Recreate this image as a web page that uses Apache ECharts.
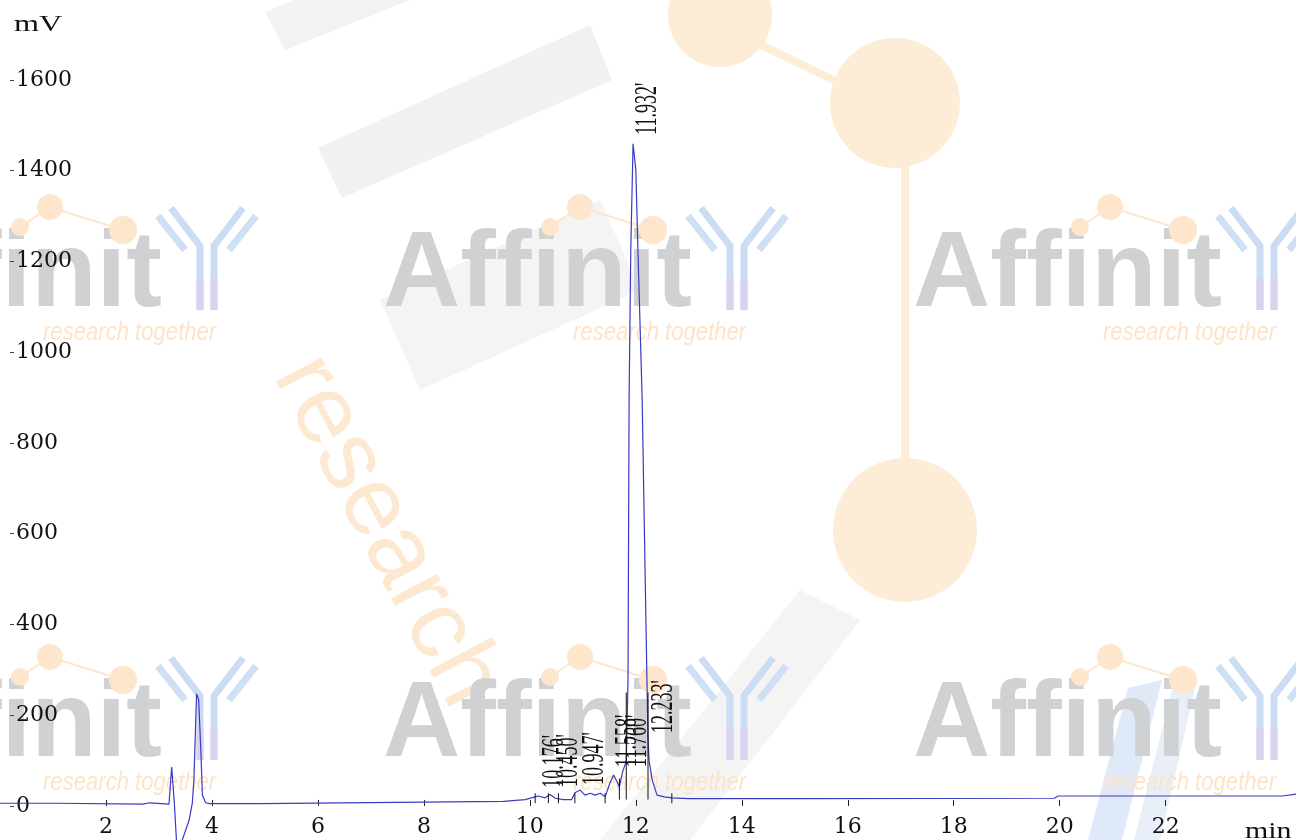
<!DOCTYPE html>
<html>
<head>
<meta charset="utf-8">
<title>chromatogram</title>
<script src="https://cdn.jsdelivr.net/npm/echarts@6/dist/echarts.min.js"></script>
<style>
html,body{margin:0;padding:0;background:#fff;}
#chart{width:1296px;height:840px;}
</style>
</head>
<body>
<div id="chart"></div>
<script>
// retention time (min) and detector signal (mV)
var rtTimes = [0, 1.05, 1.07, 2.70, 2.73, 2.82, 2.85, 3.19, 3.24, 3.29, 3.33, 3.38, 3.44, 3.57, 3.63, 3.66, 3.71, 3.75, 3.79, 3.82, 3.88, 3.95,
	4.93, 4.95, 9.50, 9.91, 10.10, 10.16, 10.29, 10.38, 10.48, 10.63, 10.79, 10.85, 10.95, 11.04, 11.14, 11.23, 11.33, 11.42,
	11.51, 11.58, 11.64, 11.69, 11.75, 11.80, 11.82, 11.853, 11.873, 11.905, 11.948, 12.00, 12.04, 12.12, 12.165, 12.21,
	12.23, 12.25, 12.31, 12.40, 12.54, 12.68, 13.00, 15.00, 19.90, 19.97, 24.20, 24.22, 24.46];
var signal = [6, 6, 4, 4, 7, 7, 4, 4, 86, 7, -75, -100, -75, -31, 7, 57, 247, 234, 123, 24, 7, 5,
	5, 7, 10, 14, 20, 22, 18, 25, 17, 14, 14, 29, 35, 24, 28, 24, 28, 20,
	50, 68, 55, 42, 75, 92, 100, 278, 895, 1225, 1459, 1402, 1225, 895, 586, 278,
	150, 101, 57, 24, 20, 18, 16, 16, 17, 22, 22, 26, 26];

// peak labels: retention time, label foot (mV)
var peakTimes = [10.176, 10.450, 10.947, 11.558, 11.760, 11.932, 12.233];
var peakNames = ["10.176'", "10.450'", "10.947'", "11.558'", "11.760'", "11.932'", "12.233'"];
var labelFoot = [40, 42, 46, 86, 86, 1479, 161];

// integration marks: short ticks on the baseline and drop lines
var tickTimes = [10.10, 10.35, 10.54, 10.85, 11.42, 12.68];
var tickLow = [6, 6, 6, 6, 6, 6];
var tickHigh = [28, 28, 28, 28, 28, 28];
var dropTimes = [11.69, 11.82, 12.23];
var dropLow = [14, 14, 14];
var dropHigh = [60, 250, 250];

var xTicks = [2, 4, 6, 8, 10, 12, 14, 16, 18, 20, 22];
var yTicks = [0, 200, 400, 600, 800, 1000, 1200, 1400, 1600];

var chart = echarts.init(document.getElementById('chart'));

var trace = [];
for (var i = 0; i < rtTimes.length; i++) {
	trace.push([rtTimes[i], signal[i]]);
}
var peakData = [];
for (var i = 0; i < peakTimes.length; i++) {
	peakData.push([peakTimes[i], labelFoot[i]]);
}
var markData = [];
for (var i = 0; i < tickTimes.length; i++) {
	markData.push([tickTimes[i], tickLow[i], tickHigh[i]]);
}
for (var i = 0; i < dropTimes.length; i++) {
	markData.push([dropTimes[i], dropLow[i], dropHigh[i]]);
}

// watermark logo, ox = left of the word, oy = its baseline
var orange = '#fde6cc';
function logo(ox, oy) {
	return {
		type: 'group', x: ox, y: oy, silent: true, z: -10,
		children: [
			{type: 'polyline', shape: {points: [[167, -81], [197, -101], [270, -78]]}, style: {stroke: orange, lineWidth: 2, fill: null}},
			{type: 'text', style: {text: 'Affinit', x: 0, y: 0, font: 'bold 107px "Liberation Sans"', fill: '#cfd1d3', verticalAlign: 'bottom'}, y: 22},
			{type: 'circle', shape: {cx: 167, cy: -81, r: 9}, style: {fill: orange}},
			{type: 'circle', shape: {cx: 197, cy: -101, r: 13}, style: {fill: orange}},
			{type: 'circle', shape: {cx: 270, cy: -78, r: 14}, style: {fill: orange}},
			{type: 'polyline', shape: {points: [[347, 2], [347, -62], [318, -100]]}, style: {stroke: '#cbdcf3', lineWidth: 7, fill: null}},
			{type: 'polyline', shape: {points: [[361, 2], [361, -62], [390, -100]]}, style: {stroke: '#cbdcf3', lineWidth: 7, fill: null}},
			{type: 'line', shape: {x1: 305, y1: -92, x2: 332, y2: -58}, style: {stroke: '#cfdff4', lineWidth: 7}},
			{type: 'line', shape: {x1: 403, y1: -92, x2: 376, y2: -58}, style: {stroke: '#cfdff4', lineWidth: 7}},
			{type: 'line', shape: {x1: 347, y1: -30, x2: 347, y2: 2}, style: {stroke: '#d8d3ef', lineWidth: 7}},
			{type: 'line', shape: {x1: 361, y1: -30, x2: 361, y2: 2}, style: {stroke: '#d8d3ef', lineWidth: 7}},
			{type: 'text', x: 190, y: 25, scaleX: 0.85, style: {text: 'research together', x: 0, y: 0, font: 'italic 26px "Liberation Sans"', fill: '#fde4c8', verticalAlign: 'middle'}}
		]
	};
}

var watermark = [
	{type: 'polygon', silent: true, z: -20, shape: {points: [[265, 12], [540, -98], [560, -60], [285, 50]]}, style: {fill: '#f2f2f2'}},
	{type: 'polygon', silent: true, z: -20, shape: {points: [[318, 148], [590, 25], [612, 80], [342, 198]]}, style: {fill: '#f1f1f1'}},
	{type: 'polygon', silent: true, z: -20, shape: {points: [[380, 300], [600, 200], [640, 290], [420, 390]]}, style: {fill: '#f4f4f4'}},
	{type: 'polygon', silent: true, z: -20, shape: {points: [[600, 840], [800, 590], [860, 620], [690, 840]]}, style: {fill: '#f4f4f4'}},
	{type: 'polygon', silent: true, z: -20, shape: {points: [[1128, 688], [1162, 680], [1122, 840], [1088, 840]]}, style: {fill: '#dfe9f8'}},
	{type: 'polygon', silent: true, z: -20, shape: {points: [[1172, 690], [1196, 684], [1160, 840], [1134, 840]]}, style: {fill: '#e8eff9'}},
	{type: 'line', silent: true, z: -20, shape: {x1: 755, y1: 42, x2: 850, y2: 88}, style: {stroke: '#fdecd6', lineWidth: 8}},
	{type: 'line', silent: true, z: -20, shape: {x1: 905, y1: 165, x2: 905, y2: 465}, style: {stroke: '#fdecd6', lineWidth: 8}},
	{type: 'circle', silent: true, z: -20, shape: {cx: 720, cy: 15, r: 52}, style: {fill: '#fdecd6'}},
	{type: 'circle', silent: true, z: -20, shape: {cx: 895, cy: 103, r: 65}, style: {fill: '#fdecd6'}},
	{type: 'circle', silent: true, z: -20, shape: {cx: 905, cy: 530, r: 72}, style: {fill: '#fdecd6'}},
	{type: 'text', silent: true, z: -15, x: 340, y: 340, rotation: -62 * Math.PI / 180,
		style: {text: 'research', x: 0, y: 0, font: '98px "Liberation Sans"', fill: '#fde9d2', verticalAlign: 'top'}},
	logo(-147, 308), logo(383, 308), logo(913, 308),
	logo(-147, 758), logo(383, 758), logo(913, 758),
	{type: 'text', silent: true, left: 14, top: 13, scaleX: 1.4,
		style: {text: 'mV', font: '23px "Liberation Serif"', fill: '#111'}},
	{type: 'text', silent: true, left: 1245, top: 820, scaleX: 1.3,
		style: {text: 'min', font: '23px "Liberation Serif"', fill: '#111'}}
];

function plain(v) {
	return String(v);
}

chart.setOption({
	animation: false,
	backgroundColor: '#fff',
	graphic: watermark,
	grid: {left: 0, right: 0, top: 0, bottom: 0},
	xAxis: {
		type: 'value',
		min: 0,
		max: 24.46,
		axisLine: {show: false},
		splitLine: {show: false},
		axisTick: {inside: true, length: 6, customValues: xTicks, lineStyle: {color: '#222'}},
		axisLabel: {inside: true, margin: 2, customValues: xTicks, formatter: plain, fontFamily: 'DejaVu Serif', fontSize: 22, color: '#111'}
	},
	yAxis: {
		type: 'value',
		min: -75,
		max: 1776,
		offset: -10,
		axisLine: {show: false},
		splitLine: {show: false},
		axisTick: {inside: true, length: 4, customValues: yTicks, lineStyle: {color: '#444'}},
		axisLabel: {inside: true, margin: 6, customValues: yTicks, formatter: plain, fontFamily: 'DejaVu Serif', fontSize: 22, color: '#111'}
	},
	series: [{
		name: 'mV',
		type: 'line',
		data: trace,
		showSymbol: false,
		smooth: false,
		lineStyle: {color: '#3a3ac6', width: 1.2},
		z: 5
	}, {
		type: 'custom',
		data: markData,
		z: 6,
		renderItem: function (params, api) {
			var a = api.coord([api.value(0), api.value(1)]);
			var b = api.coord([api.value(0), api.value(2)]);
			return {type: 'line', shape: {x1: a[0], y1: a[1], x2: b[0], y2: b[1]}, style: {stroke: '#111', lineWidth: 1}};
		}
	}, {
		type: 'custom',
		data: peakData,
		z: 7,
		renderItem: function (params, api) {
			var p = api.coord([api.value(0), api.value(1)]);
			return {
				type: 'group', x: p[0], y: p[1], rotation: Math.PI / 2,
				children: [{
					type: 'text', scaleY: 1.7,
					style: {text: peakNames[params.dataIndex], x: 0, y: 0, font: '18px "Liberation Serif"', fill: '#111', align: 'left', verticalAlign: 'top'}
				}]
			};
		}
	}]
});
</script>
</body>
</html>
